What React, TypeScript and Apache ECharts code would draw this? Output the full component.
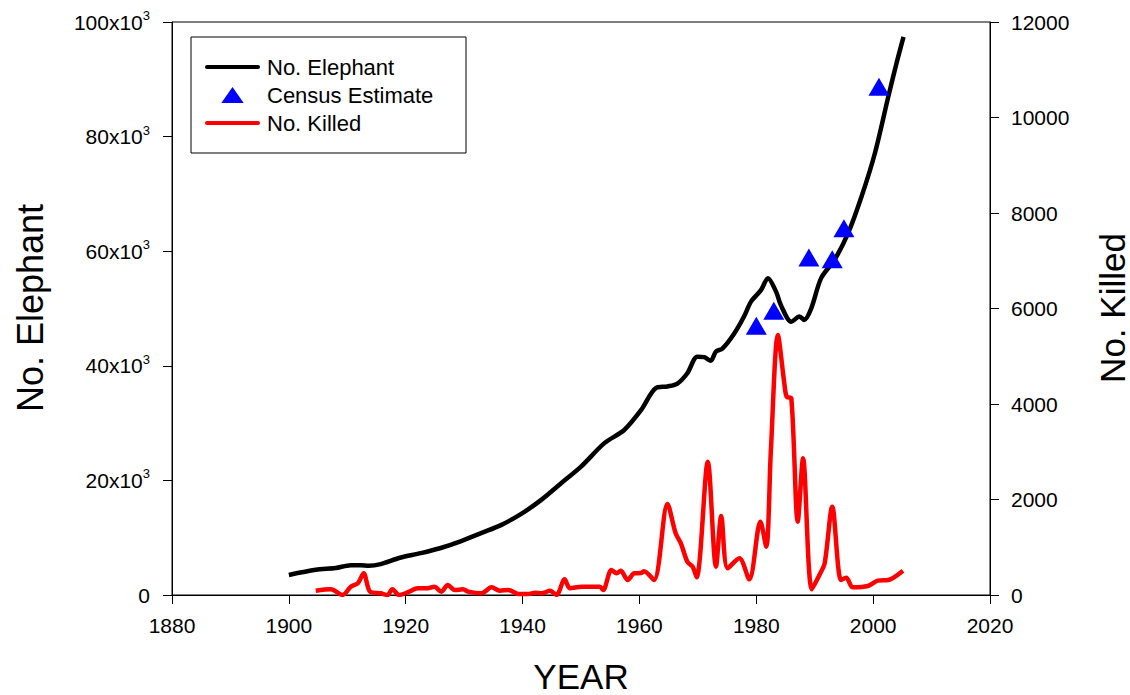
import React, { useEffect, useRef } from "react";
import * as echarts from "echarts";

const FONT = "'Liberation Sans', Arial, Helvetica, sans-serif";

// No. Elephant (years, thousands)
const elephantYears = [1900, 1904.6, 1908, 1910.6, 1912.3, 1913.7, 1915.7, 1919, 1922.6, 1926, 1929.5, 1932.9, 1936.3, 1939.7, 1943.2, 1946.6, 1950.0, 1954.0, 1957.4, 1960.3, 1962.8, 1964.8, 1966.5, 1968.2, 1969.9, 1971.1, 1972.2, 1973.1, 1974.2, 1976.2, 1977.9, 1979.1, 1980.8, 1982.0, 1983.4, 1984.2, 1986.0, 1987.4, 1988.2, 1989.4, 1991.1, 1993.4, 1995.7, 1998.0, 2000.3, 2002.6, 2004.0, 2005.2];
const elephantK = [3.5, 4.4, 4.7, 5.2, 5.2, 5.1, 5.4, 6.5, 7.3, 8.2, 9.4, 10.8, 12.2, 14.1, 16.6, 19.5, 22.4, 26.5, 28.8, 32.3, 36.1, 36.4, 36.9, 38.7, 41.6, 41.5, 40.9, 42.5, 43.0, 45.6, 48.6, 51.2, 53.2, 55.3, 52.9, 50.6, 47.7, 48.6, 48.0, 50.0, 55.3, 58.5, 63.1, 69.5, 77.1, 87.0, 92.8, 97.4];

// Census estimates (years, thousands)
const censusYears = [1980, 1983, 1989, 1993, 1995, 2001];
const censusK = [47.0, 49.6, 58.9, 58.6, 64.0, 88.7];

// No. Killed (years, count)
const killedYears = [1904.6, 1907.2, 1909.2, 1910.6, 1911.8, 1912.8, 1913.9, 1915.7, 1916.9, 1917.7, 1918.9, 1920.6, 1922.0, 1923.8, 1924.9, 1926.1, 1927.2, 1928.4, 1929.8, 1930.7, 1933.0, 1934.7, 1936.1, 1937.6, 1939.3, 1941.0, 1942.1, 1943.3, 1944.7, 1945.8, 1947.2, 1948.1, 1950.1, 1953.2, 1953.8, 1955.2, 1956.1, 1956.8, 1958.0, 1959.1, 1960.3, 1960.8, 1962.5, 1964.8, 1966.2, 1967.1, 1968.2, 1969.1, 1969.8, 1971.7, 1973.1, 1974.0, 1975.1, 1977.1, 1978.8, 1980.7, 1981.7, 1982.5, 1983.7, 1984.8, 1985.2, 1986.0, 1987.1, 1988.0, 1989.5, 1990.8, 1991.7, 1993.0, 1994.5, 1995.4, 1996.5, 1999.1, 2000.8, 2002.6, 2005.1];
const killedValues = [90, 119, 0, 174, 245, 454, 70, 36, 0, 119, 0, 70, 140, 140, 174, 70, 209, 105, 119, 70, 36, 161, 90, 105, 21, 21, 48, 36, 90, 0, 328, 140, 174, 174, 105, 524, 454, 509, 314, 454, 460, 500, 314, 1906, 1292, 1082, 697, 593, 370, 2792, 593, 1654, 559, 768, 328, 1536, 1012, 3037, 5445, 4433, 4153, 4118, 1536, 2862, 119, 419, 663, 1850, 314, 363, 161, 188, 300, 314, 509];

const xTicks = { min: 1880, max: 2020, interval: 20 };
const leftTicks = { min: 0, max: 100000, interval: 20000 };
const rightTicks = { min: 0, max: 12000, interval: 2000 };

const seriesNames = ["No. Elephant", "Census Estimate", "No. Killed"];

export default function App() {
  const ref = useRef<HTMLDivElement>(null);
  useEffect(() => {
    if (!ref.current) return;
    const chart = echarts.init(ref.current, null, { renderer: "svg" });
    const tickLabel = { fontSize: 21, fontFamily: FONT, color: "#000" };
    const axisLine = { show: true, lineStyle: { color: "#000", width: 1 } };
    const axisTick = { show: true, inside: false, length: 9, lineStyle: { color: "#000", width: 1 } };
    const lineIcon = "path://M2,0 L53,0 A2,2 0 0 1 53,4 L2,4 A2,2 0 0 1 2,0 Z";
    chart.setOption({
      animation: false,
      textStyle: { fontFamily: FONT },
      grid: { left: 172, right: 140, top: 22, bottom: 100, show: true, borderColor: "#000", borderWidth: 1, backgroundColor: "transparent" },
      legend: {
        orient: "vertical",
        left: 205,
        top: 56,
        padding: 0,
        itemWidth: 55,
        itemHeight: 16,
        itemGap: 6,
        textStyle: { fontSize: 22, fontFamily: FONT, color: "#000", padding: [0, 0, 0, 2] },
        data: [
          { name: seriesNames[0], icon: lineIcon },
          { name: seriesNames[1], icon: "path://M10.5,0 L21,15 L0,15 Z" },
          { name: seriesNames[2], icon: lineIcon },
        ],
        selectedMode: false,
      },
      graphic: [
        { type: "rect", z: 1, shape: { x: 191, y: 37, width: 275, height: 116 }, style: { fill: "#fff", stroke: "#000", lineWidth: 1 } },
        { type: "text", x: 30, y: 308, rotation: Math.PI / 2, style: { text: "No. Elephant", fontSize: 36, fontFamily: FONT, fill: "#000", align: "center", verticalAlign: "middle" } },
        { type: "text", x: 1112, y: 308, rotation: Math.PI / 2, style: { text: "No. Killed", fontSize: 35, fontFamily: FONT, fill: "#000", align: "center", verticalAlign: "middle" } },
        { type: "text", x: 581, y: 676, style: { text: "YEAR", fontSize: 35, fontFamily: FONT, fill: "#000", align: "center", verticalAlign: "middle" } },
      ],
      xAxis: {
        type: "value",
        min: xTicks.min,
        max: xTicks.max,
        interval: xTicks.interval,
        axisLine,
        axisTick,
        splitLine: { show: false },
        axisLabel: { ...tickLabel, margin: 20, formatter: (v: number) => String(v) },
      },
      yAxis: [
        {
          type: "value",
          position: "left",
          min: leftTicks.min,
          max: leftTicks.max,
          interval: leftTicks.interval,
          axisLine,
          axisTick,
          splitLine: { show: false },
          axisLabel: {
            margin: 22,
            formatter: (v: number) => (v === 0 ? "{b|0}" : `{b|${v / 1000}x10}{s|3}`),
            rich: {
              b: { fontSize: 21, fontFamily: FONT, color: "#000", lineHeight: 26 },
              s: { fontSize: 13, fontFamily: FONT, color: "#000", verticalAlign: "top", lineHeight: 18 },
            },
          },
        },
        {
          type: "value",
          position: "right",
          min: rightTicks.min,
          max: rightTicks.max,
          interval: rightTicks.interval,
          axisLine,
          axisTick,
          splitLine: { show: false },
          axisLabel: { ...tickLabel, margin: 21, formatter: (v: number) => String(v) },
        },
      ],
      series: [
        {
          name: seriesNames[0],
          type: "line",
          yAxisIndex: 0,
          symbol: "none",
          smooth: 0.3,
          lineStyle: { color: "#000", width: 4.5 },
          itemStyle: { color: "#000" },
          z: 3,
          data: elephantYears.map((y, i) => [y, elephantK[i] * 1000]),
        },
        {
          name: seriesNames[1],
          type: "scatter",
          yAxisIndex: 0,
          symbol: "triangle",
          symbolSize: [21, 18],
          itemStyle: { color: "#0000ff", opacity: 1 },
          z: 4,
          data: censusYears.map((y, i) => [y, censusK[i] * 1000]),
        },
        {
          name: seriesNames[2],
          type: "line",
          yAxisIndex: 1,
          symbol: "none",
          smooth: 0.3,
          lineStyle: { color: "#ff0000", width: 4.5 },
          itemStyle: { color: "#ff0000" },
          z: 2,
          data: killedYears.map((y, i) => [y, killedValues[i]]),
        },
      ],
    });
    return () => chart.dispose();
  }, []);
  return <div ref={ref} style={{ width: 1130, height: 695, position: "absolute", left: 0, top: 0 }} />;
}
